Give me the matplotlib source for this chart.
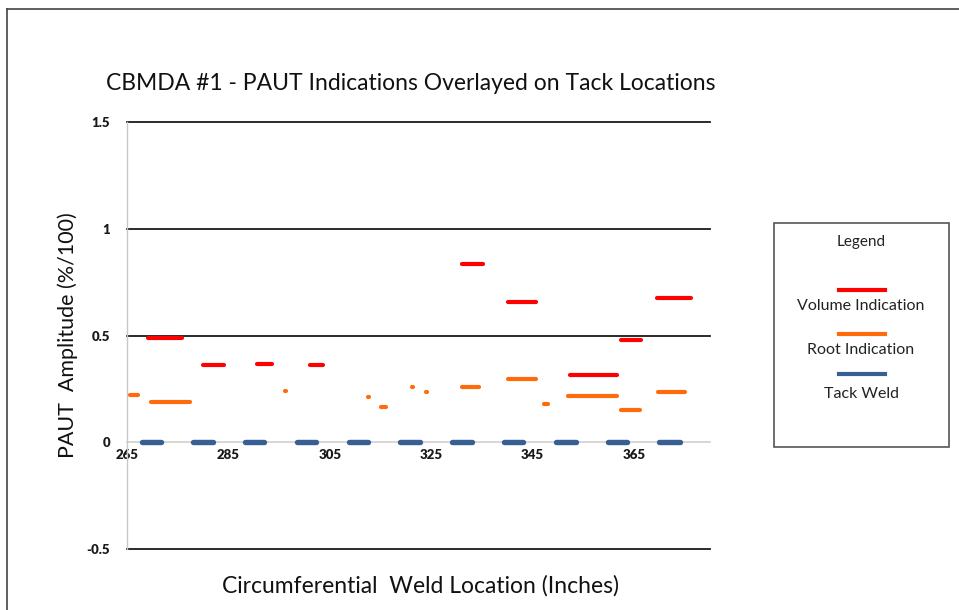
"""
Recreate: CBMDA #1 - PAUT indications overlayed on tack locations.
Each indication / tack weld is drawn as a flat segment (start -> end inch) at its amplitude.
"""
import matplotlib
matplotlib.use('Agg')
import matplotlib.pyplot as plt
from matplotlib.lines import Line2D
from matplotlib.patches import Rectangle

plt.rcParams['font.family'] = ['Lato', 'DejaVu Sans']

# Volume indications (red): start inch, end inch, amplitude
vol_start = [269.1, 280.0, 290.6, 301.0, 331.1, 340.2, 352.4, 362.5, 369.5]
vol_end = [275.8, 284.1, 293.6, 303.6, 335.3, 345.6, 361.6, 366.3, 376.3]
vol_amp = [0.49, 0.36, 0.365, 0.36, 0.835, 0.655, 0.315, 0.48, 0.675]

# Root indications (orange)
root_start = [265.6, 269.8, 296.2, 312.6, 315.2, 321.2, 324.0, 331.1, 340.2, 347.3, 352.0, 362.5, 369.7]
root_end = [267.1, 277.4, 296.4, 312.8, 316.0, 321.4, 324.2, 334.5, 345.6, 348.1, 361.6, 366.2, 375.1]
root_amp = [0.22, 0.19, 0.24, 0.21, 0.165, 0.26, 0.235, 0.26, 0.295, 0.18, 0.215, 0.15, 0.235]

# Tack welds (blue), all at zero amplitude
tack_start = [267.9, 278.1, 288.2, 298.5, 308.7, 318.9, 329.1, 339.4, 349.6, 359.8, 370.0]
tack_end = [271.7, 281.9, 292.0, 302.3, 312.6, 322.7, 333.0, 343.2, 353.5, 363.7, 374.0]

x_ticks = [265, 285, 305, 325, 345, 365]
y_ticks = [-0.5, 0, 0.5, 1, 1.5]
y_ticklabels = ['-0.5', '0', '0.5', '1', '1.5']

RED = '#ff0000'
ORANGE = '#ff6a0a'
BLUE = '#375f94'

W, H = 959, 610
fig = plt.figure(figsize=(W / 100, H / 100), dpi=100)
ax = fig.add_axes([127 / W, 1 - 549 / H, (710 - 127) / W, (549 - 122) / H])

# segments
for s, e in zip(tack_start, tack_end):
    ax.plot([s, e], [0, 0], color=BLUE, lw=3.9, solid_capstyle='round', zorder=3)
for s, e, a in zip(root_start, root_end, root_amp):
    ax.plot([s, e], [a, a], color=ORANGE, lw=3.0, solid_capstyle='round', zorder=3)
for s, e, a in zip(vol_start, vol_end, vol_amp):
    ax.plot([s, e], [a, a], color=RED, lw=3.0, solid_capstyle='round', zorder=3)

ax.set_xlim(265, 380)
ax.set_ylim(-0.5, 1.5)
ax.set_xticks(x_ticks)
ax.set_yticks(y_ticks)
ax.set_yticklabels(y_ticklabels)

# horizontal gridlines, dark; zero line is the light axis
ax.yaxis.grid(True, color='#1a1a1a', lw=1.3)
ax.set_axisbelow(True)
for gl, v in zip(ax.get_ygridlines(), y_ticks):
    if v == 0:
        gl.set_visible(False)
    gl.set_clip_on(False)

for side in ['top', 'right']:
    ax.spines[side].set_visible(False)
ax.spines['left'].set_color('#c8c8c8')
ax.spines['left'].set_linewidth(1.0)
ax.spines['bottom'].set_position(('data', 0))
ax.spines['bottom'].set_color('#d0d0d0')
ax.spines['bottom'].set_linewidth(1.2)

ax.tick_params(axis='x', length=0, pad=5, labelsize=9.5)
ax.tick_params(axis='y', length=0, pad=12, labelsize=9.5)
for lab in ax.get_xticklabels() + ax.get_yticklabels():
    lab.set_fontweight('heavy')
    lab.set_color('#1a1a1a')

# titles
fig.text(411 / W, 1 - 83 / H, 'CBMDA #1 - PAUT Indications Overlayed on Tack Locations',
         ha='center', va='center', fontsize=16.5, color='#111111')
fig.text(421 / W, 1 - 586 / H, 'Circumferential  Weld Location (Inches)',
         ha='center', va='center', fontsize=16.5, color='#111111')
fig.text(68 / W, 1 - 335 / H, 'PAUT  Amplitude (%/100)', rotation=90,
         ha='center', va='center', fontsize=15.5, color='#111111')

# legend box drawn by hand (swatch above label)
fig.add_artist(Rectangle((774 / W, 1 - 447 / H), 175 / W, 224 / H, transform=fig.transFigure,
                         fill=False, edgecolor='#555555', lw=1.2))
fig.text(861 / W, 1 - 242 / H, 'Legend', ha='center', va='center', fontsize=11, color='#222222')
legend_items = [('Volume Indication', RED, 290, 306),
                ('Root Indication', ORANGE, 334, 350),
                ('Tack Weld', BLUE, 374, 394)]
for label, col, ly, ty in legend_items:
    fig.add_artist(Line2D([839 / W, 885 / W], [1 - ly / H, 1 - ly / H], transform=fig.transFigure,
                          color=col, lw=3.0))
    fig.text(861 / W, 1 - ty / H, label, ha='center', va='center', fontsize=11.5, color='#222222')

# outer frame (only top and left edges visible in the cropped reference)
fig.add_artist(Line2D([7 / W, 7 / W], [0, 1 - 9 / H], transform=fig.transFigure, color='#444444', lw=1.2))
fig.add_artist(Line2D([7 / W, 1], [1 - 9 / H, 1 - 9 / H], transform=fig.transFigure, color='#444444', lw=1.2))

fig.savefig('out.png', dpi=100)
